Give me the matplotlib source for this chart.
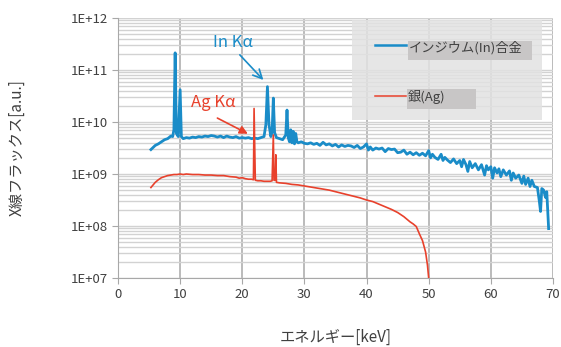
import numpy as np
import matplotlib
matplotlib.use('Agg')
import matplotlib.pyplot as plt
from matplotlib.patches import Rectangle

plt.rcParams['font.family'] = ['Noto Sans CJK JP', 'DejaVu Sans']

# インジウム合金 spectrum (keV, log10 flux)
in_kev = [5.3, 6.0, 6.5, 7.0, 7.5, 8.0, 8.5, 8.8, 9.0, 9.2, 9.4, 9.7, 10.0, 10.2, 10.5,
          11.0, 11.5, 12.0, 12.5, 13.0, 13.5, 14.0, 14.5, 15.0, 15.5, 16.0, 16.5, 17.0,
          17.5, 18.0, 18.5, 19.0, 19.5, 20.0, 20.5, 21.0, 21.5, 22.0, 22.5, 23.0, 23.5,
          23.8, 24.05, 24.3, 24.6, 24.8, 25.0, 25.2, 25.5, 26.0, 26.5, 27.0, 27.2, 27.4,
          27.6, 27.8, 28.0, 28.2, 28.4, 28.6, 28.8, 29.0, 29.5, 30.0, 30.5, 31.0, 31.5,
          32.0, 32.5, 33.0, 33.5, 34.0, 34.5, 35.0, 35.5, 36.0, 36.5, 37.0, 37.5, 38.0,
          38.5, 39.0, 39.5, 40.0, 40.3, 40.6, 41.0, 41.5, 42.0, 42.5, 43.0, 43.5, 44.0,
          44.5, 45.0, 45.5, 46.0, 46.5, 47.0, 47.5, 48.0, 48.5, 49.0, 49.5, 50.0, 50.3,
          50.6, 51.0, 51.5, 52.0, 52.3, 52.6, 53.0, 53.5, 54.0, 54.5, 55.0, 55.3, 55.6,
          56.0, 56.3, 56.6, 57.0, 57.5, 58.0, 58.5, 59.0, 59.3, 59.6, 60.0, 60.3, 60.6,
          61.0, 61.3, 61.6, 62.0, 62.5, 63.0, 63.3, 63.6, 64.0, 64.5, 65.0, 65.3, 65.6,
          66.0, 66.3, 66.6, 67.0, 67.5, 67.8, 68.0, 68.2, 68.5, 68.8, 69.0, 69.3]
in_log = [9.47, 9.55, 9.58, 9.62, 9.66, 9.68, 9.73, 9.72, 9.85, 11.33, 9.78, 9.72, 10.62, 9.72, 9.68,
          9.70, 9.69, 9.71, 9.70, 9.72, 9.71, 9.73, 9.72, 9.74, 9.73, 9.71, 9.73, 9.70,
          9.73, 9.71, 9.70, 9.72, 9.69, 9.70, 9.69, 9.70, 9.68, 9.69, 9.68, 9.70, 9.72,
          9.95, 10.68, 9.95, 9.72, 9.80, 10.46, 9.80, 9.70, 9.68, 9.66, 9.75, 10.23, 9.70,
          9.62, 9.85, 9.60, 9.82, 9.58, 9.78, 9.62, 9.60, 9.62, 9.59, 9.58, 9.60, 9.57,
          9.59, 9.55, 9.61, 9.56, 9.58, 9.54, 9.57, 9.52, 9.56, 9.53, 9.55, 9.54, 9.51,
          9.55, 9.49, 9.52, 9.58, 9.46, 9.52, 9.46, 9.50, 9.48, 9.50, 9.43, 9.49, 9.47,
          9.48, 9.41, 9.42, 9.46, 9.38, 9.42, 9.37, 9.41, 9.36, 9.40, 9.35, 9.45, 9.31,
          9.38, 9.32, 9.28, 9.38, 9.26, 9.32, 9.27, 9.22, 9.29, 9.20, 9.26, 9.14, 9.28,
          9.18, 9.05, 9.24, 9.12, 9.20, 9.08, 9.18, 8.98, 9.16, 9.08, 9.14, 8.92, 9.12,
          9.02, 9.10, 8.95, 9.08, 8.98, 9.06, 8.88, 9.02, 8.92, 8.98, 8.82, 8.96, 8.80,
          8.92, 8.76, 8.88, 8.76, 8.74, 8.48, 8.28, 8.72, 8.69, 8.55, 8.66, 7.95]

# 銀 spectrum (keV, log10 flux)
ag_kev = [5.3, 6.0, 6.5, 7.0, 7.5, 8.0, 8.5, 9.0, 9.5, 10.0, 10.5, 11.0, 12.0, 13.0, 14.0,
          15.0, 16.0, 17.0, 18.0, 19.0, 19.5, 20.0, 20.5, 21.0, 21.5, 21.8, 21.9, 22.1,
          22.5, 23.0, 23.5, 24.0, 24.5, 24.8, 25.0, 25.1, 25.3, 25.4, 25.5, 26.0, 27.0,
          28.0, 29.0, 30.0, 31.0, 32.0, 33.0, 34.0, 35.0, 36.0, 37.0, 38.0, 39.0, 40.0,
          41.0, 42.0, 43.0, 44.0, 45.0, 46.0, 47.0, 47.5, 48.0, 48.5, 49.0, 49.5, 49.8, 50.0]
ag_log = [8.74, 8.84, 8.89, 8.93, 8.95, 8.97, 8.98, 8.99, 8.99, 9.00, 8.99, 9.00, 8.99, 8.99, 8.98,
          8.98, 8.97, 8.97, 8.95, 8.94, 8.92, 8.93, 8.91, 8.90, 8.90, 8.89, 10.26, 8.88,
          8.87, 8.87, 8.86, 8.86, 8.86, 8.87, 9.75, 8.88, 8.88, 9.37, 8.84, 8.83, 8.82,
          8.80, 8.79, 8.77, 8.75, 8.73, 8.71, 8.69, 8.66, 8.63, 8.60, 8.57, 8.54, 8.50,
          8.47, 8.42, 8.37, 8.32, 8.26, 8.18, 8.08, 8.04, 7.99, 7.85, 7.72, 7.50, 7.25, 7.0]

blue = '#1a8cc8'
red = '#e8412c'

fig = plt.figure(figsize=(5.61, 3.47), dpi=100)
ax = fig.add_axes([0.2103, 0.1988, 0.7754, 0.7493])

ax.set_yscale('log')
ax.set_xlim(0, 70)
ax.set_ylim(1e7, 1e12)

ax.plot(in_kev, 10 ** np.array(in_log), color=blue, lw=2.0, zorder=4)
ax.plot(ag_kev, 10 ** np.array(ag_log), color=red, lw=1.2, zorder=4)

# grid
ax.set_xticks(range(0, 71, 10))
ax.set_yticks([1e7, 1e8, 1e9, 1e10, 1e11, 1e12])
ax.set_yticklabels(['1E+07', '1E+08', '1E+09', '1E+10', '1E+11', '1E+12'])
ax.grid(True, which='major', axis='x', color='#a8a8a8', lw=1.1)
ax.grid(True, which='both', axis='y', color='#d2d2d2', lw=1.0)
ax.set_axisbelow(True)
ax.tick_params(axis='y', which='minor', length=0)
ax.tick_params(axis='both', which='major', length=4, color='#a8a8a8',
               labelsize=9.5, labelcolor='#404040')
for s in ['top', 'right']:
    ax.spines[s].set_visible(False)
for s in ['left', 'bottom']:
    ax.spines[s].set_color('#a8a8a8')

ax.set_xlabel('エネルギー[keV]', fontsize=11, color='#404040', labelpad=20)
ax.set_ylabel('X線フラックス[a.u.]', fontsize=11, color='#404040', labelpad=32)

# annotations
ax.annotate('', xy=(23.7, 10 ** 10.77), xytext=(19.3, 10 ** 11.33),
            arrowprops=dict(arrowstyle='->', color=blue, lw=1.2, mutation_scale=16), zorder=5)
ax.text(18.5, 10 ** 11.52, 'In Kα', color=blue, fontsize=12, ha='center', va='center')
ax.annotate('', xy=(21.3, 10 ** 9.75), xytext=(15.6, 10 ** 10.1),
            arrowprops=dict(arrowstyle='-|>', color=red, lw=1.2, mutation_scale=12), zorder=5)
ax.text(15.3, 10 ** 10.37, 'Ag Kα', color=red, fontsize=12, ha='center', va='center')

# legend drawn by hand like the Excel box
ax.add_patch(Rectangle((0.538, 0.608), 0.437, 0.384, transform=ax.transAxes,
                       facecolor='#e2e2e2', alpha=0.85, edgecolor='none', zorder=2))
ax.add_patch(Rectangle((0.667, 0.838), 0.285, 0.074, transform=ax.transAxes,
                       facecolor='#c8c6c6', edgecolor='none', zorder=3))
ax.add_patch(Rectangle((0.664, 0.650), 0.159, 0.077, transform=ax.transAxes,
                       facecolor='#c8c6c6', edgecolor='none', zorder=3))
ax.plot([0.591, 0.662], [0.896, 0.896], transform=ax.transAxes, color=blue, lw=1.8, zorder=4)
ax.plot([0.591, 0.662], [0.700, 0.700], transform=ax.transAxes, color=red, lw=1.1, zorder=4)
ax.text(0.668, 0.885, 'インジウム(In)合金', transform=ax.transAxes, fontsize=9.5,
        color='#404040', va='center', zorder=5)
ax.text(0.665, 0.695, '銀(Ag)', transform=ax.transAxes, fontsize=9.5,
        color='#404040', va='center', zorder=5)

plt.savefig('out.png', dpi=100)
